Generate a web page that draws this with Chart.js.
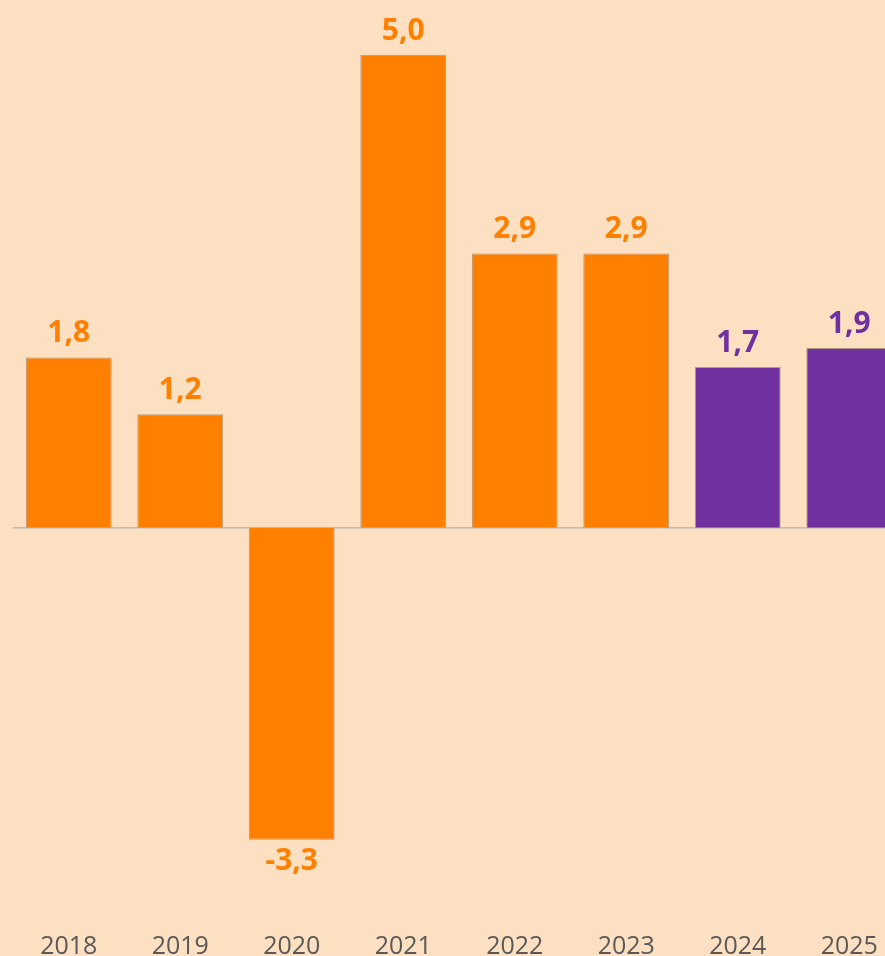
<!DOCTYPE html>
<html>
<head>
<meta charset="utf-8">
<script src="https://cdn.jsdelivr.net/npm/chart.js@4/dist/chart.umd.min.js"></script>
<style>
  html, body { margin:0; padding:0; background:#FDDFC1; overflow:hidden; }
  #wrap { position:relative; width:905px; height:956px; }
</style>
</head>
<body>
<div id="wrap"><canvas id="chart" width="905" height="956"></canvas></div>
<script>
/* ------- DATA ------- */
const years = ["2018","2019","2020","2021","2022","2023","2024","2025"];
const growth = [1.8, 1.2, -3.3, 5.0, 2.9, 2.9, 1.7, 1.9];
const forecast = [false, false, false, false, false, false, true, true];

const ORANGE = "#FF8000";
const PURPLE = "#7030A0";

const barColors = forecast.map(f => f ? PURPLE : ORANGE);

/* ------- ZERO LINE ------- */
const zeroLine = {
  id: "zeroLine",
  beforeDatasetsDraw(chart){
    const {ctx, chartArea, scales} = chart;
    const y = scales.y.getPixelForValue(0);
    ctx.save();
    ctx.strokeStyle = "#B8BEC6";
    ctx.lineWidth = 1.5;
    ctx.beginPath();
    ctx.moveTo(chartArea.left, y);
    ctx.lineTo(chartArea.right, y);
    ctx.stroke();
    ctx.restore();
  }
};

/* ------- VALUE LABELS ------- */
const valueLabels = {
  id: "valueLabels",
  afterDatasetsDraw(chart){
    const {ctx} = chart;
    const meta = chart.getDatasetMeta(0);
    ctx.save();
    ctx.font = "bold 30px 'Open Sans', sans-serif";
    ctx.textAlign = "center";
    ctx.textBaseline = "alphabetic";
    meta.data.forEach((bar, i) => {
      const v = growth[i];
      ctx.fillStyle = barColors[i];
      const txt = v.toFixed(1).replace(".", ",");
      if (v >= 0) ctx.fillText(txt, bar.x, bar.y - 15);
      else ctx.fillText(txt, bar.x, bar.y + 30);
    });
    ctx.restore();
  }
};

new Chart(document.getElementById("chart"), {
  type: "bar",
  data: {
    labels: years,
    datasets: [{
      data: growth,
      backgroundColor: barColors,
      borderColor: "#B09A88",
      borderWidth: 1,
      categoryPercentage: 1,
      barPercentage: 0.77
    }]
  },
  options: {
    responsive: false,
    animation: false,
    layout: { padding: { left: 13, right: 0, top: 0, bottom: 0 } },
    plugins: { legend: { display: false }, tooltip: { enabled: false } },
    scales: {
      y: { display: false, min: -4, max: 5.58 },
      x: {
        grid: { display: false },
        border: { display: false },
        afterFit(scale){ scale.height = 50; },
        ticks: {
          color: "#595959",
          padding: 18,
          maxRotation: 0,
          font: { family: "'Open Sans', sans-serif", size: 25 }
        }
      }
    }
  },
  plugins: [zeroLine, valueLabels]
});
</script>
</body>
</html>
